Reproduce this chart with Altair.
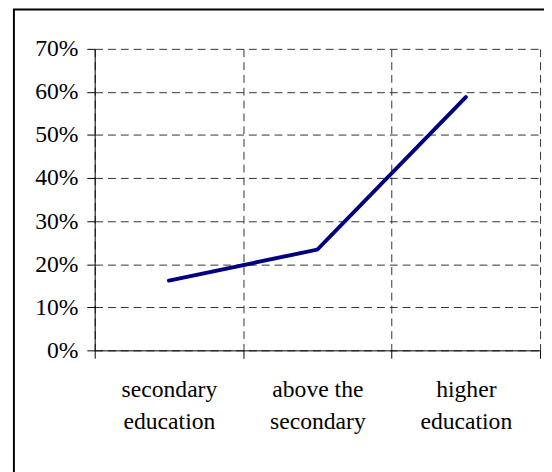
import altair as alt
import pandas as pd

categories = ["secondary\neducation", "above the\nsecondary", "higher\neducation"]
values = [0.162, 0.234, 0.588]
y_ticks = [0.0, 0.1, 0.2, 0.3, 0.4, 0.5, 0.6, 0.7]

df = pd.DataFrame({"cat": categories, "val": values})

FONT = "'Liberation Serif', 'Times New Roman', 'DejaVu Serif', serif"
grid_dash = [8, 5]

base = alt.Chart(df)

line = base.mark_line(color="#000080", strokeWidth=4, strokeCap="round").encode(
    x=alt.X(
        "cat:N",
        sort=categories,
        bandPosition=0.5,
        scale=alt.Scale(type="band", paddingInner=0, paddingOuter=0),
        axis=alt.Axis(
            title=None,
            labelAngle=0,
            labelExpr="split(datum.label, '\\n')",
            labelFont=FONT,
            labelFontSize=24,
            labelLineHeight=32,
            labelColor="black",
            labelPadding=20,
            tickBand="extent",
            tickSize=8,
            tickColor="black",
            domainColor="black",
            grid=True,
            gridDash=grid_dash,
            gridColor="#333333",
            gridOpacity=1,
        ),
    ),
    y=alt.Y(
        "val:Q",
        scale=alt.Scale(domain=[0, 0.7], nice=False),
        axis=alt.Axis(
            title=None,
            values=y_ticks,
            format=".0%",
            labelFont=FONT,
            labelFontSize=24,
            labelColor="black",
            labelPadding=9,
            tickSize=8,
            tickColor="black",
            domainColor="black",
            grid=True,
            gridDash=grid_dash,
            gridColor="#333333",
            gridOpacity=1,
        ),
    ),
)

border = alt.Chart(pd.DataFrame({"a": [0]})).mark_rect(
    fill=None, stroke="black", strokeWidth=2
).encode(
    x=alt.value(-82),
    x2=alt.value(700),
    y=alt.value(-40),
    y2=alt.value(700),
)

chart = alt.layer(line, border).properties(
    width=452,
    height=306,
    autosize=alt.AutoSizeParams(type="none"),
    padding={"left": 88, "top": 38, "right": 4, "bottom": 120},
    background="white",
).configure_view(stroke=None)

chart.save("out.html", embed_options={"renderer": "svg", "actions": False})
